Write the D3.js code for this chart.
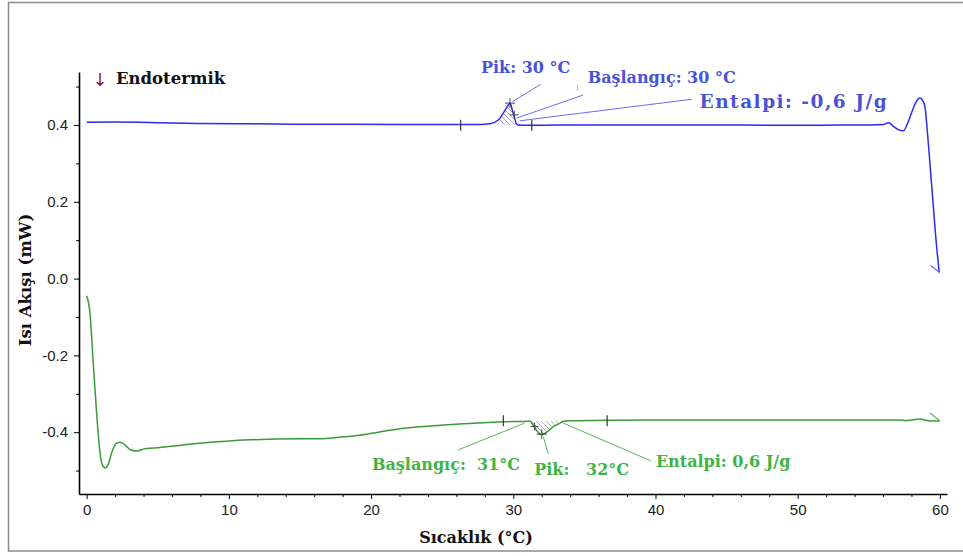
<!DOCTYPE html>
<html>
<head>
<meta charset="utf-8">
<script src="https://cdn.jsdelivr.net/npm/d3@7/dist/d3.min.js"></script>
<style>
  body { margin: 0; background: #fff; }
  svg { display: block; }
</style>
</head>
<body>
<svg id="chart" width="963" height="556"></svg>
<script>
// Blue run (upper trace): temperature (°C) and heat flow (mW)
const blueTemp = [0, 2, 3.75, 6, 8, 11.5, 15, 18.5, 22, 24, 26.3, 27.66, 28.36, 28.95, 29.3, 29.58, 29.77,
  29.93, 30.07, 30.19, 30.33, 31.3, 33, 36, 40, 43, 46, 50, 53, 55.1, 56.0, 56.4, 56.75, 57.07, 57.43,
  57.78, 58.0, 58.3, 58.6, 58.8, 58.95, 59.11, 59.3, 59.54, 59.77, 59.96];
const blueFlow = [0.407, 0.4075, 0.407, 0.405, 0.404, 0.403, 0.402, 0.402, 0.4015, 0.401, 0.401, 0.401, 0.403,
  0.413, 0.431, 0.448, 0.457, 0.439, 0.422, 0.405, 0.400, 0.399, 0.400, 0.400, 0.400, 0.400, 0.400, 0.399, 0.400,
  0.400, 0.401, 0.406, 0.396, 0.388, 0.385, 0.409, 0.431, 0.458, 0.470, 0.463, 0.448, 0.387, 0.300, 0.1875, 0.083, 0.0156];

// Green run (lower trace)
const greenTemp = [0, 0.23, 0.46, 0.70, 0.94, 1.08, 1.29, 1.50, 1.78, 2.06, 2.34, 2.69, 3.05, 3.54, 4.1, 5.15,
  7.97, 11.5, 15.0, 16.4, 17.8, 19.2, 20.5, 22.0, 24.1, 26.2, 28.2, 29.3, 30.8, 31.17, 31.4, 31.67, 31.96, 32.17,
  32.45, 32.8, 33.15, 33.64, 36.6, 43.1, 50.2, 57.2, 57.55, 58.0, 58.6, 59.0, 59.3, 59.65, 60.0];
const greenFlow = [-0.045, -0.089, -0.220, -0.350, -0.454, -0.483, -0.493, -0.485, -0.451, -0.430, -0.426, -0.433,
  -0.445, -0.449, -0.443, -0.440, -0.429, -0.420, -0.417, -0.417, -0.413, -0.408, -0.400, -0.391, -0.384, -0.379,
  -0.375, -0.373, -0.372, -0.371, -0.382, -0.397, -0.406, -0.404, -0.397, -0.386, -0.379, -0.371, -0.369, -0.368,
  -0.368, -0.368, -0.370, -0.368, -0.366, -0.369, -0.371, -0.371, -0.370];

// Axis ticks
const xTicks = [0, 10, 20, 30, 40, 50, 60];
const xTickLabels = ["0", "10", "20", "30", "40", "50", "60"];
const xMinorTicks = [2, 4, 6, 8, 12, 14, 16, 18, 22, 24, 26, 28, 32, 34, 36, 38, 42, 44, 46, 48, 52, 54, 56, 58];
const yTicks = [0.4, 0.2, 0.0, -0.2, -0.4];
const yTickLabels = ["0.4", "0.2", "0.0", "-0.2", "-0.4"];
const yMinorTicks = [0.5, 0.3, 0.1, -0.1, -0.3, -0.5];

// Peak analysis results
const blueBase = 0.401, blueLimits = [26.3, 31.3], blueHatch = [28.9, 30.33];
const bluePeak = [29.77, 0.457], blueOnset = [30.07, 0.4265];
const greenBase = -0.371, greenLimits = [29.3, 36.6], greenHatch = [31.17, 33.64];
const greenPeak = [32.0, -0.405], greenOnset = [31.5, -0.385];

const blueLabels = ["Pik: 30 °C", "Başlangıç: 30 °C", "Entalpi: -0,6 J/g"];
const blueLabelAt = [[27.73, 0.535], [35.23, 0.509], [43.1, 0.4445]];
const blueLabelWidth = [null, null, 187];
const blueLeaders = [[[29.96, 0.461], [31.93, 0.506]], [[30.24, 0.418], [34.92, 0.478]], [[30.47, 0.411], [42.55, 0.467]]];
const greenLabels = ["Başlangıç:  31°C", "Pik:   32°C", "Entalpi: 0,6 J/g"];
const greenLabelAt = [[20.06, -0.498], [31.47, -0.511], [40.03, -0.490]];
const greenLabelWidth = [null, null, null];
const greenLeaders = [[[30.79, -0.3766], [26.13, -0.446]], [[32.12, -0.413], [32.46, -0.4565]], [[33.53, -0.3766], [39.68, -0.4747]]];

const BLUE = "#2b2bf2", BLUE_TXT = "#4a52d6", BLUE_LEAD = "#6c6cf2";
const GREEN = "#3a9a3a", GREEN_TXT = "#3cb446", GREEN_LEAD = "#5cb35c";
const SERIF = "'DejaVu Serif', serif";

const svg = d3.select("#chart");

// outer frame
svg.append("rect").attr("x", 8.5).attr("y", 2.5).attr("width", 1000).attr("height", 548.5)
  .attr("fill", "none").attr("stroke", "#8c8c8c").attr("stroke-width", 1.5);

const x = d3.scaleLinear().domain([-0.54, 60.5]).range([79, 947]);
const y = d3.scaleLinear().domain([-0.561, 0.538]).range([494, 72]);

// hatch patterns for the integrated peak areas
const defs = svg.append("defs");
function hatch(id, color) {
  const p = defs.append("pattern").attr("id", id).attr("patternUnits", "userSpaceOnUse")
    .attr("width", 5).attr("height", 5);
  p.append("path").attr("d", "M-1,-1L6,6M-1,4L1,6M4,-1L6,1")
    .attr("stroke", color).attr("stroke-width", 0.9);
}
hatch("hatchBlue", "#8e8ef4");
hatch("hatchGreen", "#a0aca0");

// axes
function styleAxis(g) {
  g.selectAll(".domain").attr("stroke", "#000").attr("stroke-width", 1.6);
  g.selectAll(".tick line").attr("stroke", "#000").attr("stroke-width", 1);
  g.selectAll(".tick text").attr("fill", "#222").attr("font-family", "'Liberation Sans', Arial, sans-serif")
    .attr("font-size", 15);
}
const gx = svg.append("g").attr("transform", "translate(0,494)")
  .call(d3.axisBottom(x).tickValues(xTicks).tickSize(5).tickSizeOuter(0).tickPadding(5)
    .tickFormat((d, i) => xTickLabels[i]));
styleAxis(gx);
const gxm = svg.append("g").attr("transform", "translate(0,494)")
  .call(d3.axisBottom(x).tickValues(xMinorTicks).tickSize(3).tickFormat(""));
gxm.select(".domain").remove();
styleAxis(gxm);

const gy = svg.append("g").attr("transform", "translate(79,0)")
  .call(d3.axisLeft(y).tickValues(yTicks).tickSize(5).tickSizeOuter(0).tickPadding(6)
    .tickFormat((d, i) => yTickLabels[i]));
styleAxis(gy);
const gym = svg.append("g").attr("transform", "translate(79,0)")
  .call(d3.axisLeft(y).tickValues(yMinorTicks).tickSize(3).tickFormat(""));
gym.select(".domain").remove();
styleAxis(gym);

// axis titles
svg.append("text").attr("x", 476).attr("y", 543).attr("text-anchor", "middle")
  .attr("font-family", SERIF).attr("font-weight", "bold").attr("font-size", 16).attr("fill", "#111")
  .text("Sıcaklık (°C)");
svg.append("text").attr("transform", "translate(31,280) rotate(-90)").attr("text-anchor", "middle")
  .attr("font-family", SERIF).attr("font-weight", "bold").attr("font-size", 16.5).attr("fill", "#111")
  .text("Isı Akışı (mW)");

// direction note
svg.append("text").attr("x", 100).attr("y", 86).attr("text-anchor", "middle")
  .attr("font-family", "'DejaVu Sans', sans-serif").attr("font-size", 18).attr("fill", "#7a2348").text("↓");
svg.append("text").attr("x", 116).attr("y", 84)
  .attr("font-family", SERIF).attr("font-weight", "bold").attr("font-size", 16.5).attr("fill", "#111")
  .text("Endotermik");

const line = d3.line().x(d => x(d[0])).y(d => y(d[1])).curve(d3.curveMonotoneX);
const bluePts = blueTemp.map((t, i) => [t, blueFlow[i]]);
const greenPts = greenTemp.map((t, i) => [t, greenFlow[i]]);

function hatchArea(pts, range, base, fillId) {
  const sub = pts.filter(p => p[0] >= range[0] && p[0] <= range[1]);
  const area = d3.area().x(d => x(d[0])).y0(y(base)).y1(d => y(d[1])).curve(d3.curveMonotoneX);
  svg.append("path").attr("d", area(sub)).attr("fill", `url(#${fillId})`).attr("stroke", "none");
}
hatchArea(bluePts, blueHatch, blueBase, "hatchBlue");
hatchArea(greenPts, greenHatch, greenBase, "hatchGreen");

// traces
svg.append("path").attr("d", line(bluePts)).attr("fill", "none").attr("stroke", BLUE).attr("stroke-width", 1.5);
svg.append("path").attr("d", line(greenPts)).attr("fill", "none").attr("stroke", GREEN).attr("stroke-width", 1.5);

// end-of-run hooks
svg.append("path").attr("d", d3.line()([[x(59.34), y(0.034)], [x(59.98), y(0.0156)]]))
  .attr("stroke", BLUE_LEAD).attr("stroke-width", 1.2).attr("fill", "none");
svg.append("path").attr("d", d3.line()([[x(59.3), y(-0.350)], [x(60), y(-0.370)]]))
  .attr("stroke", GREEN_LEAD).attr("stroke-width", 1.2).attr("fill", "none");

// integration limits and crosshairs
function limitTick(t, v) {
  svg.append("path").attr("d", `M${x(t)},${y(v) - 5.5}V${y(v) + 5.5}`)
    .attr("stroke", "#333").attr("stroke-width", 1.2);
}
function cross(t, v, r) {
  const cx = x(t), cy = y(v);
  svg.append("path").attr("d", `M${cx - r},${cy}H${cx + r}M${cx},${cy - r}V${cy + r}`)
    .attr("stroke", "#444").attr("stroke-width", 1);
}
blueLimits.forEach(t => limitTick(t, blueBase - 0.002));
greenLimits.forEach(t => limitTick(t, greenBase + 0.001));
cross(bluePeak[0], bluePeak[1], 5);
cross(blueOnset[0], blueOnset[1], 4);
cross(greenOnset[0], greenOnset[1], 4);
cross(greenPeak[0], greenPeak[1], 5);

// leaders and labels
function leaders(list, color) {
  list.forEach(seg => svg.append("path")
    .attr("d", d3.line()(seg.map(p => [x(p[0]), y(p[1])])))
    .attr("stroke", color).attr("stroke-width", 1).attr("fill", "none"));
}
leaders(blueLeaders, BLUE_LEAD);
leaders(greenLeaders, GREEN_LEAD);

function labels(texts, at, widths, color) {
  texts.forEach((s, i) => {
    const t = svg.append("text").attr("x", x(at[i][0])).attr("y", y(at[i][1]))
      .attr("font-family", SERIF).attr("font-weight", "bold").attr("font-size", widths[i] ? 18.5 : 16)
      .attr("fill", color).attr("xml:space", "preserve").style("white-space", "pre").text(s);
    if (widths[i]) t.attr("textLength", widths[i]).attr("lengthAdjust", "spacing");
  });
}
labels(blueLabels, blueLabelAt, blueLabelWidth, BLUE_TXT);
labels(greenLabels, greenLabelAt, greenLabelWidth, GREEN_TXT);

// small marker near the onset label
svg.append("path").attr("d", `M${x(34.5)},${y(0.505)}V${y(0.488)}`)
  .attr("stroke", "#e6a6c8").attr("stroke-width", 1);
</script>
</body>
</html>
